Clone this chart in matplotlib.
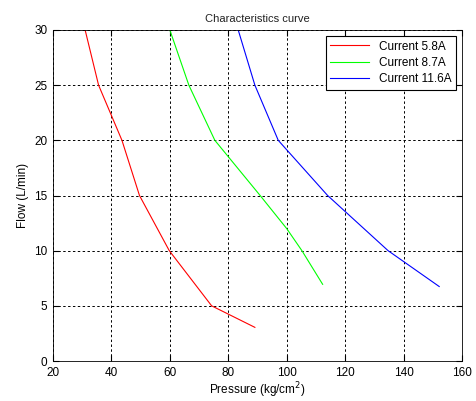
import matplotlib
matplotlib.use('Agg')
import matplotlib.pyplot as plt

plt.rcParams['font.family'] = ['Liberation Sans', 'DejaVu Sans']

# Pressure (kg/cm2) vs flow (L/min) for each coil current
p_58 = [31, 35.6, 43.6, 49.6, 59.8, 74.3, 89.1]
q_58 = [30, 25, 20, 15, 10, 5, 3.05]
p_87 = [60, 66.5, 75.4, 90.9, 100, 105.2, 112.3]
q_87 = [30, 25, 20, 15, 12, 10, 6.95]
p_116 = [83.4, 89.1, 97.1, 114, 134.7, 152.2]
q_116 = [30, 25, 20, 15, 10, 6.75]

labels = ['Current 5.8A', 'Current 8.7A', 'Current 11.6A']

fig = plt.figure(figsize=(4.77, 4.01), dpi=100)
ax = fig.add_axes([53/477, 1 - 361/401, 409/477, 331/401])

ax.plot(p_58, q_58, color='#ff0000', lw=0.8, label=labels[0])
ax.plot(p_87, q_87, color='#00ff00', lw=0.8, label=labels[1])
ax.plot(p_116, q_116, color='#0000ff', lw=0.8, label=labels[2])

ax.set_xlim(20, 160)
ax.set_ylim(0, 30)
ax.set_xticks(range(20, 161, 20))
ax.set_yticks(range(0, 31, 5))
ax.grid(True, color='black', linestyle=(0, (2.5, 2.5)), linewidth=0.7)
ax.tick_params(direction='in', top=True, right=True, length=4, labelsize=8.5)
ax.tick_params(axis='x', pad=4)
ax.tick_params(axis='y', pad=4)
for s in ax.spines.values():
    s.set_linewidth(0.6)

ax.set_title('Characteristics curve', fontsize=8, pad=6, color='#222222')
ax.set_xlabel('Pressure (kg/cm$^2$)', fontsize=8.5, labelpad=1)
ax.set_ylabel('Flow (L/min)', fontsize=8.5, labelpad=4)

leg = ax.legend(loc='upper right', fontsize=8.5, fancybox=False, framealpha=1,
                edgecolor='black', handlelength=3.3, borderpad=0.4, labelspacing=0.35,
                borderaxespad=0.5)
leg.get_frame().set_linewidth(0.8)

fig.savefig('out.png', dpi=100)
